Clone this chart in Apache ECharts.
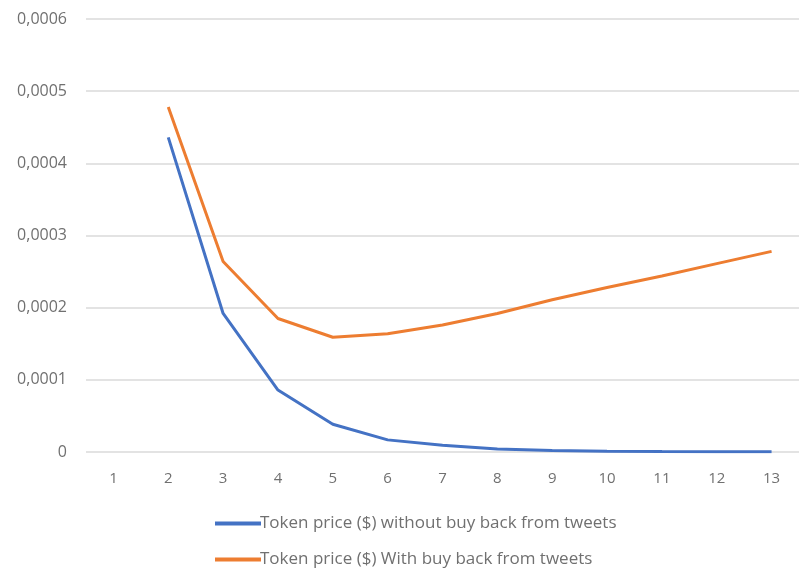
<!DOCTYPE html>
<html><head><meta charset="utf-8">
<script src="https://cdn.jsdelivr.net/npm/echarts@6/dist/echarts.min.js"></script>
<style>html,body{margin:0;padding:0;background:#fff}#c{width:803px;height:579px}</style>
</head><body><div id="c"></div>
<script>
const categories = ['1','2','3','4','5','6','7','8','9','10','11','12','13'];
const seriesNames = ['Token price ($) without buy back from tweets', 'Token price ($) With buy back from tweets'];
const withoutBuyBack = [null, 0.000436, 0.000192, 0.0000859, 0.0000385, 0.0000168, 0.0000095, 0.0000042, 0.0000022, 0.0000012, 0.0000007, 0.0000005, 0.0000004];
const withBuyBack = [null, 0.000478, 0.000264, 0.000185, 0.000159, 0.000164, 0.000176, 0.000192, 0.000211, 0.000228, 0.000244, 0.000261, 0.000278];
const yTicks = { min: 0, max: 0.0006, interval: 0.0001 };

const chart = echarts.init(document.getElementById('c'), null, {renderer: 'canvas'});
chart.setOption({
  animation: false,
  backgroundColor: '#fff',
  grid: { left: 86, right: 4, top: 19, height: 433, containLabel: false },
  xAxis: {
    type: 'category', data: categories, boundaryGap: true,
    axisLine: { show: false }, axisTick: { show: false },
    axisLabel: { color: '#707070', fontSize: 15, fontFamily: 'Open Sans, sans-serif', margin: 19 }
  },
  yAxis: {
    type: 'value', min: yTicks.min, max: yTicks.max, interval: yTicks.interval,
    axisLine: { show: false }, axisTick: { show: false },
    splitLine: { lineStyle: { color: '#e3e3e3', width: 2 } },
    axisLabel: { color: '#707070', fontSize: 16, fontFamily: 'Open Sans, sans-serif', margin: 19,
      formatter: v => v === 0 ? '0' : v.toFixed(4).replace('.', ',') }
  },
  legend: {
    orient: 'vertical', left: 210, top: 510, itemGap: 19,
    icon: 'rect', itemWidth: 46, itemHeight: 4,
    textStyle: { color: '#707070', fontSize: 17, fontFamily: 'Open Sans, sans-serif', padding: [0,0,0,-6] },
    data: seriesNames
  },
  series: [
    { name: seriesNames[0], type: 'line', data: withoutBuyBack, showSymbol: false, smooth: false,
      color: '#4472C4', lineStyle: { width: 3, color: '#4472C4' } },
    { name: seriesNames[1], type: 'line', data: withBuyBack, showSymbol: false, smooth: false,
      color: '#ED7D31', lineStyle: { width: 3, color: '#ED7D31' } }
  ]
});
</script></body></html>
